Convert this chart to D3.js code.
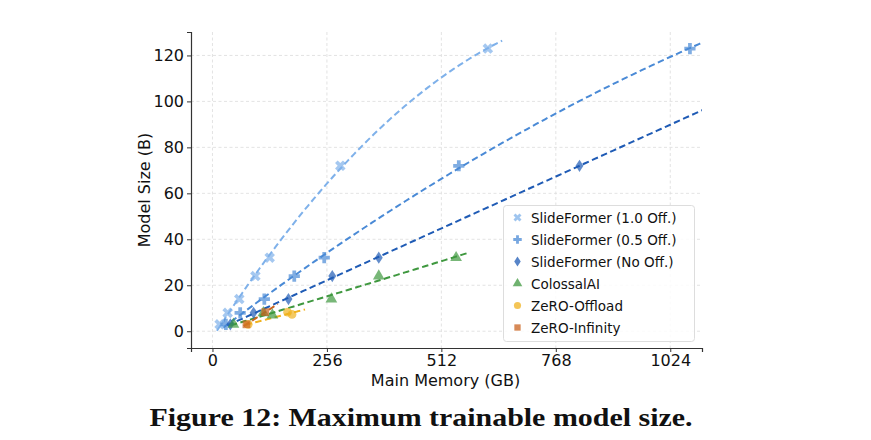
<!DOCTYPE html>
<html>
<head>
<meta charset="utf-8">
<script src="https://cdn.jsdelivr.net/npm/d3@7"></script>
<style>
  body { margin: 0; background: #fff; }
  svg { display: block; font-family: "DejaVu Sans", sans-serif; }
</style>
</head>
<body>
<script>
// Series names and colours (legend order)
var seriesNames = ["SlideFormer (1.0 Off.)", "SlideFormer (0.5 Off.)", "SlideFormer (No Off.)",
                   "ColossalAI", "ZeRO-Offload", "ZeRO-Infinity"];
var seriesColors = ["#7fb1ea", "#4a8ad6", "#1f5bb5", "#3f983f", "#f0b21f", "#c9631f"];

// Main memory (GB) / model size (B)
var memFull = [16, 34, 60, 96, 128, 286, 616];
var sizeFull = [3, 8, 14, 24, 32, 72, 123];
var memHalf = [30, 62, 116, 183, 250, 551, 1068];
var sizeHalf = [3, 8, 14, 24, 32, 72, 123];
var memNone = [40, 92, 170, 268, 372, 821];
var sizeNone = [3, 8, 14, 24, 32, 72];
var memColossal = [47, 114, 134, 266, 372, 545];
var sizeColossal = [3, 8, 7, 14, 24, 32];
var memOffload = [80, 168, 178];
var sizeOffload = [3, 8.3, 7.3];
var memInfinity = [76, 118];
var sizeInfinity = [3, 8.3];

// how far (GB) each dashed trend line runs
var fitMax = [648, 1100, 1100, 575, 207, 146];

var xTicks = [0, 256, 512, 768, 1024];
var yTicks = [0, 20, 40, 60, 80, 100, 120];

var seriesX = [memFull, memHalf, memNone, memColossal, memOffload, memInfinity];
var seriesY = [sizeFull, sizeHalf, sizeNone, sizeColossal, sizeOffload, sizeInfinity];

// marker shapes
function markerPath(i, size) {
    var sym = [d3.symbolCross, d3.symbolCross, d3.symbolDiamond, d3.symbolTriangle, d3.symbolCircle, d3.symbolSquare][i];
    return d3.symbol().type(sym).size(size)();
}
function markerTransform(i) {
    if (i == 0) return " rotate(45)";   // filled "X"
    if (i == 2) return " scale(0.95,0.85)";   // thin diamond
    return "";
}

// least squares polynomial fit (degree 2, or 1 for short series)
function polyfit(xs, ys, deg) {
    var n = deg + 1, A = [], b = [];
    for (var r = 0; r < n; r++) {
        A.push([]);
        for (var c = 0; c < n; c++) A[r].push(d3.sum(xs, function (v) { return Math.pow(v, r + c); }));
        b.push(d3.sum(xs, function (v, k) { return ys[k] * Math.pow(v, r); }));
    }
    for (var p = 0; p < n; p++) {
        for (var q = p + 1; q < n; q++) {
            var f = A[q][p] / A[p][p];
            for (var c2 = p; c2 < n; c2++) A[q][c2] -= f * A[p][c2];
            b[q] -= f * b[p];
        }
    }
    var coef = new Array(n);
    for (var r2 = n - 1; r2 >= 0; r2--) {
        var s = b[r2];
        for (var c3 = r2 + 1; c3 < n; c3++) s -= A[r2][c3] * coef[c3];
        coef[r2] = s / A[r2][r2];
    }
    return function (v) { var out = 0; for (var k = 0; k < n; k++) out += coef[k] * Math.pow(v, k); return out; };
}

var width = 871, height = 440;
var plotLeft = 191, plotRight = 702, plotTop = 32, plotBottom = 348;

var svg = d3.select("body").append("svg")
    .attr("width", width)
    .attr("height", height);

var x = d3.scaleLinear().domain([-48, 1095]).range([plotLeft, plotRight]);
var y = d3.scaleLinear().domain([-7.3, 130.2]).range([plotBottom, plotTop]);

svg.append("defs").append("clipPath").attr("id", "plot")
    .append("rect").attr("x", plotLeft).attr("y", plotTop)
    .attr("width", plotRight - plotLeft).attr("height", plotBottom - plotTop);

// grid
var grid = svg.append("g");
grid.selectAll(".gx").data(xTicks).enter().append("line")
    .attr("x1", function (d) { return x(d); }).attr("x2", function (d) { return x(d); })
    .attr("y1", plotTop).attr("y2", plotBottom);
grid.selectAll(".gy").data(yTicks).enter().append("line")
    .attr("y1", function (d) { return y(d); }).attr("y2", function (d) { return y(d); })
    .attr("x1", plotLeft).attr("x2", plotRight);
grid.selectAll("line")
    .style("stroke", "#dcdcdc")
    .style("stroke-width", 0.8)
    .style("stroke-dasharray", "3,2.5");

// fit lines and markers
var plot = svg.append("g").attr("clip-path", "url(#plot)");
seriesNames.forEach(function (name, i) {
    var xs = seriesX[i], ys = seriesY[i];
    var fit = polyfit(xs, ys, xs.length > 3 ? 2 : 1);
    var x0 = d3.min(xs) - 6, x1 = fitMax[i];
    var pts = d3.range(0, 101).map(function (k) { var xv = x0 + (x1 - x0) * k / 100; return [xv, fit(xv)]; });
    plot.append("path")
        .datum(pts)
        .attr("d", d3.line().x(function (d) { return x(d[0]); }).y(function (d) { return y(d[1]); }))
        .style("fill", "none")
        .style("stroke", seriesColors[i])
        .style("stroke-width", 2)
        .style("stroke-dasharray", "6.5,3.5");
});
seriesNames.forEach(function (name, i) {
    var xs = seriesX[i], ys = seriesY[i];
    plot.selectAll(".m" + i).data(xs).enter().append("path")
        .attr("d", markerPath(i, [70, 70, 60, 60, 60, 60][i]))
        .attr("transform", function (d, k) { return "translate(" + x(d) + "," + y(ys[k]) + ")" + markerTransform(i); })
        .style("fill", seriesColors[i])
        .style("fill-opacity", 0.7);
});

// axes
var xAxis = svg.append("g").attr("transform", "translate(0," + plotBottom + ")")
    .call(d3.axisBottom(x).tickValues(xTicks).tickFormat(d3.format("d")).tickSize(4).tickPadding(3));
var yAxis = svg.append("g").attr("transform", "translate(" + plotLeft + ",0)")
    .call(d3.axisLeft(y).tickValues(yTicks).tickFormat(d3.format("d")).tickSize(4).tickPadding(3));
[xAxis, yAxis].forEach(function (a) {
    a.select(".domain").style("stroke", "#333").style("stroke-width", 1.2);
    a.selectAll(".tick line").style("stroke", "#333");
    a.selectAll(".tick text").style("font-family", "DejaVu Sans").style("font-size", "16px").style("fill", "#111");
});

svg.append("text")
    .attr("x", (plotLeft + plotRight) / 2 - 1).attr("y", 386)
    .attr("text-anchor", "middle")
    .style("font-size", "16px").style("fill", "#111")
    .text("Main Memory (GB)");
svg.append("text")
    .attr("transform", "translate(150," + ((plotTop + plotBottom) / 2) + ") rotate(-90)")
    .attr("text-anchor", "middle")
    .style("font-size", "16px").style("fill", "#111")
    .text("Model Size (B)");

// legend
var legend = svg.append("g");
legend.append("rect")
    .attr("x", 503.5).attr("y", 205.5).attr("width", 191).attr("height", 136)
    .attr("rx", 3)
    .style("fill", "#fff").style("fill-opacity", 0.85)
    .style("stroke", "#dddddd").style("stroke-width", 1);
seriesNames.forEach(function (name, i) {
    var ly = 217.5 + i * 22;
    legend.append("path")
        .attr("d", markerPath(i, 40))
        .attr("transform", "translate(517.5," + ly + ")" + markerTransform(i))
        .style("fill", seriesColors[i])
        .style("fill-opacity", 0.75);
    legend.append("text")
        .attr("x", 531).attr("y", ly + 5)
        .style("font-size", "13.5px").style("fill", "#111")
        .text(name);
});

// caption
svg.append("text")
    .attr("x", 421).attr("y", 426)
    .attr("text-anchor", "middle")
    .attr("textLength", 543).attr("lengthAdjust", "spacingAndGlyphs")
    .style("font-family", "Liberation Serif, serif").style("font-weight", "bold")
    .style("font-size", "25px").style("fill", "#111")
    .text("Figure 12: Maximum trainable model size.");
</script>
</body>
</html>
